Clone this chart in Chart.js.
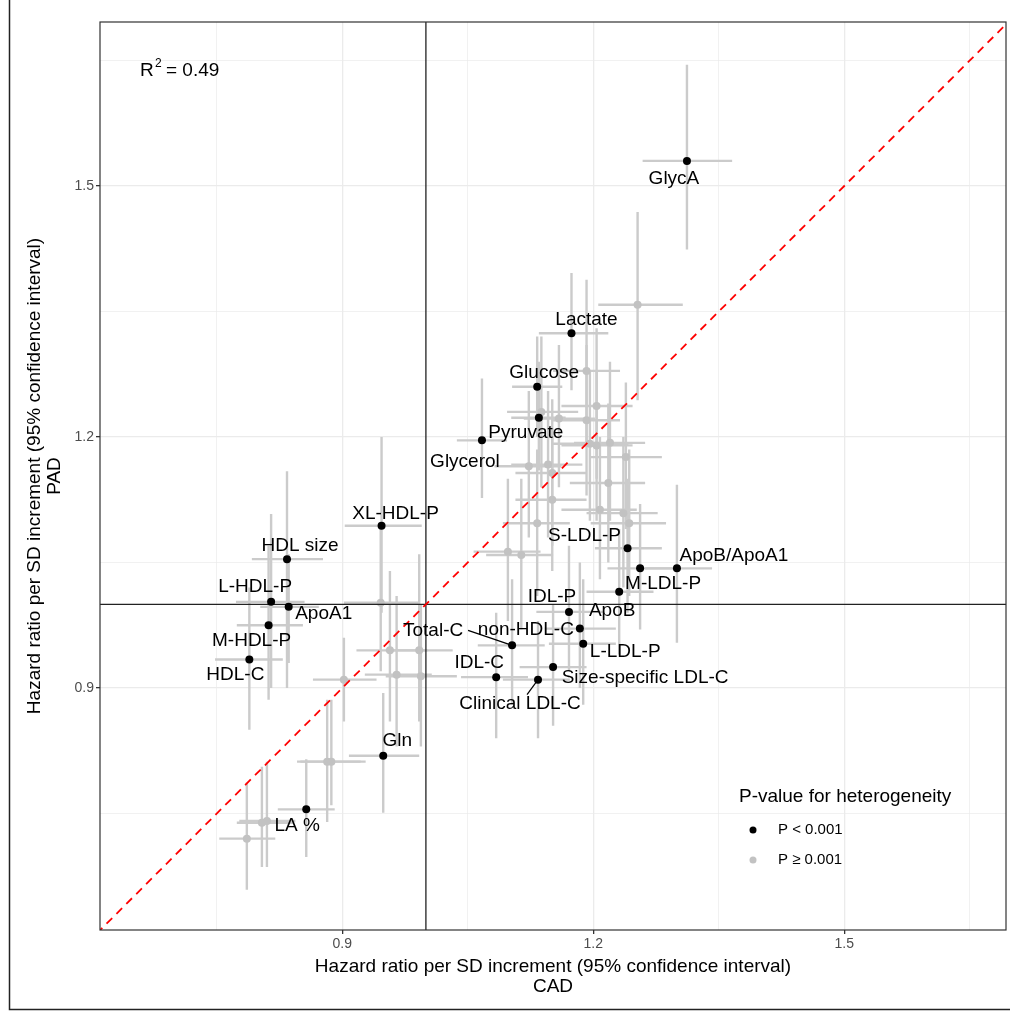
<!DOCTYPE html>
<html>
<head>
<meta charset="utf-8">
<script src="https://cdn.jsdelivr.net/npm/chart.js@4.4.0/dist/chart.umd.min.js"></script>
<style>
  html, body { margin: 0; padding: 0; background: #fff; }
  #wrap { position: relative; width: 1010px; height: 1013px; }
</style>
</head>
<body>
<div id="wrap"><canvas id="chart"></canvas></div>
<script>
// P < 0.001 (labelled, black)
const sigNames = ['GlycA', 'Lactate', 'Glucose', 'Pyruvate', 'Glycerol', 'XL-HDL-P', 'HDL size', 'L-HDL-P',
  'ApoA1', 'M-HDL-P', 'HDL-C', 'Gln', 'LA %', 'S-LDL-P', 'M-LDL-P', 'ApoB/ApoA1', 'ApoB', 'IDL-P',
  'non-HDL-C', 'L-LDL-P', 'Total-C', 'Size-specific LDL-C', 'IDL-C', 'Clinical LDL-C'];
const sigCad   = [1.312, 1.174, 1.133, 1.135, 1.067, 0.947, 0.834, 0.815, 0.836, 0.812, 0.789, 0.949, 0.857, 1.241, 1.256, 1.300, 1.231, 1.171, 1.184, 1.188, 1.103, 1.152, 1.084, 1.134];
const sigCadLo = [1.259, 1.135, 1.103, 1.102, 1.037, 0.903, 0.792, 0.773, 0.802, 0.774, 0.748, 0.908, 0.823, 1.202, 1.217, 1.262, 1.192, 1.132, 1.142, 1.147, 1.062, 1.112, 1.042, 1.092];
const sigCadHi = [1.366, 1.218, 1.163, 1.167, 1.097, 0.995, 0.877, 0.855, 0.872, 0.853, 0.829, 0.992, 0.891, 1.282, 1.297, 1.342, 1.272, 1.212, 1.227, 1.227, 1.142, 1.192, 1.122, 1.172];
const sigPad   = [1.530, 1.324, 1.260, 1.223, 1.196, 1.094, 1.054, 1.003, 0.997, 0.975, 0.934, 0.819, 0.755, 1.067, 1.043, 1.043, 1.015, 0.991, 0.971, 0.953, 0.951, 0.925, 0.913, 0.910];
const sigPadLo = [1.424, 1.256, 1.200, 1.160, 1.127, 0.990, 0.900, 0.900, 0.930, 0.886, 0.850, 0.751, 0.698, 0.990, 0.970, 0.954, 0.940, 0.920, 0.900, 0.880, 0.880, 0.855, 0.840, 0.840];
const sigPadHi = [1.645, 1.396, 1.320, 1.290, 1.270, 1.200, 1.159, 1.108, 1.060, 1.070, 1.020, 0.894, 0.815, 1.150, 1.120, 1.143, 1.090, 1.070, 1.050, 1.030, 1.030, 1.000, 0.990, 0.980];

// P >= 0.001 (grey)
const nsCad   = [1.253, 1.192, 1.204, 1.138, 1.159, 1.192, 1.196, 1.204, 1.220, 1.239, 1.123, 1.146, 1.151, 1.218, 1.151, 1.208, 1.236, 1.243, 1.133, 1.098, 1.114, 0.946, 0.957, 0.992, 0.965, 0.994, 0.902, 0.882, 0.887, 0.804, 0.810, 0.786];
const nsCadLo = [1.206, 1.152, 1.162, 1.097, 1.117, 1.152, 1.152, 1.162, 1.177, 1.197, 1.082, 1.102, 1.107, 1.172, 1.107, 1.162, 1.192, 1.197, 1.092, 1.057, 1.072, 0.902, 0.917, 0.952, 0.927, 0.952, 0.865, 0.846, 0.850, 0.774, 0.777, 0.753];
const nsCadHi = [1.307, 1.232, 1.247, 1.182, 1.202, 1.232, 1.242, 1.247, 1.262, 1.282, 1.162, 1.187, 1.192, 1.262, 1.192, 1.252, 1.277, 1.287, 1.172, 1.137, 1.152, 0.992, 1.002, 1.032, 1.007, 1.037, 0.941, 0.922, 0.928, 0.841, 0.844, 0.820];
const nsPad   = [1.358, 1.279, 1.237, 1.230, 1.222, 1.220, 1.192, 1.190, 1.193, 1.176, 1.165, 1.167, 1.157, 1.145, 1.125, 1.113, 1.109, 1.097, 1.097, 1.063, 1.059, 1.002, 0.945, 0.945, 0.916, 0.914, 0.910, 0.812, 0.812, 0.739, 0.741, 0.720];
const nsPadLo = [1.244, 1.190, 1.150, 1.140, 1.140, 1.130, 1.100, 1.100, 1.100, 1.090, 1.080, 1.080, 1.070, 1.050, 1.040, 1.030, 1.020, 1.010, 1.010, 0.980, 0.970, 0.920, 0.860, 0.860, 0.830, 0.830, 0.860, 0.740, 0.760, 0.686, 0.686, 0.659];
const nsPadHi = [1.469, 1.388, 1.330, 1.320, 1.310, 1.310, 1.280, 1.280, 1.290, 1.265, 1.255, 1.255, 1.245, 1.240, 1.210, 1.200, 1.200, 1.185, 1.185, 1.150, 1.150, 1.090, 1.040, 1.060, 1.010, 1.000, 0.960, 0.886, 0.886, 0.806, 0.812, 0.787];

const xTicks = [0.75, 0.9, 1.05, 1.2, 1.35, 1.5, 1.65];
const majorTicks = [0.9, 1.2, 1.5];

// label placement (pixel offsets of label centre from its point), plus leader lines
const labelOffset = {
  'GlycA': [-13, 18], 'Lactate': [15, -13], 'Glucose': [7, -14], 'Pyruvate': [-13, 15],
  'Glycerol': [-17, 21], 'XL-HDL-P': [14, -12], 'HDL size': [13, -13], 'L-HDL-P': [-16, -15],
  'ApoA1': [35, 7], 'M-HDL-P': [-17, 15], 'HDL-C': [-14, 15], 'Gln': [14, -15], 'LA %': [-9, 16],
  'S-LDL-P': [-43, -13], 'M-LDL-P': [23, 15], 'ApoB/ApoA1': [57, -13], 'ApoB': [-7, 19],
  'IDL-P': [-17, -15], 'non-HDL-C': [-54, 1], 'L-LDL-P': [42, 8], 'Total-C': [-79, -15],
  'Size-specific LDL-C': [92, 11], 'IDL-C': [-17, -14], 'Clinical LDL-C': [-18, 24]
};
const leaders = { 'Total-C': [-44, -15], 'Clinical LDL-C': [-11, 15] };

const FONT = "'Liberation Sans', Arial, Helvetica, sans-serif";

function toPoints(xs, lo, hi, ys, ylo, yhi) {
  return xs.map((v, i) => ({ x: v, y: ys[i], xlo: lo[i], xhi: hi[i], ylo: ylo[i], yhi: yhi[i] }));
}

const errorBars = {
  id: 'errorBars',
  beforeDatasetsDraw(chart) {
    const { ctx, chartArea: a, scales: { x, y } } = chart;
    ctx.save();
    ctx.beginPath();
    ctx.rect(a.left, a.top, a.right - a.left, a.bottom - a.top);
    ctx.clip();
    ctx.strokeStyle = '#cbcbcb';
    ctx.lineWidth = 2.4;
    [1, 0].forEach(di => {
      chart.data.datasets[di].data.forEach(p => {
        const px = x.getPixelForValue(p.x), py = y.getPixelForValue(p.y);
        ctx.beginPath();
        ctx.moveTo(x.getPixelForValue(p.xlo), py);
        ctx.lineTo(x.getPixelForValue(p.xhi), py);
        ctx.moveTo(px, y.getPixelForValue(p.ylo));
        ctx.lineTo(px, y.getPixelForValue(p.yhi));
        ctx.stroke();
      });
    });
    ctx.restore();
  }
};

const annotations = {
  id: 'annotations',
  afterDatasetsDraw(chart) {
    const { ctx, chartArea: a, scales: { x, y } } = chart;
    ctx.save();
    // point labels
    ctx.font = '19px ' + FONT;
    ctx.fillStyle = '#000';
    ctx.textAlign = 'center';
    ctx.textBaseline = 'middle';
    sigNames.forEach((name, i) => {
      const px = x.getPixelForValue(sigCad[i]), py = y.getPixelForValue(sigPad[i]);
      const off = labelOffset[name];
      if (leaders[name]) {
        ctx.strokeStyle = '#000';
        ctx.lineWidth = 1.2;
        ctx.beginPath();
        ctx.moveTo(px + leaders[name][0], py + leaders[name][1]);
        ctx.lineTo(px, py);
        ctx.stroke();
      }
      ctx.fillText(name, px + off[0], py + off[1]);
    });
    // R^2
    ctx.textAlign = 'left';
    ctx.textBaseline = 'alphabetic';
    ctx.font = '19px ' + FONT;
    ctx.fillText('R', a.left + 40, a.top + 54);
    ctx.font = '12px ' + FONT;
    ctx.fillText('2', a.left + 55, a.top + 45);
    ctx.font = '19px ' + FONT;
    ctx.fillText('= 0.49', a.left + 66, a.top + 54);
    // legend
    ctx.textBaseline = 'middle';
    ctx.font = '19px ' + FONT;
    ctx.fillText('P-value for heterogeneity', 739, 797);
    ctx.font = '15px ' + FONT;
    [['P < 0.001', '#000'], ['P \u2265 0.001', '#c2c2c2']].forEach((e, i) => {
      const ey = 830 + i * 30;
      ctx.fillStyle = e[1];
      ctx.beginPath();
      ctx.arc(753, ey, 3.5, 0, Math.PI * 2);
      ctx.fill();
      ctx.fillStyle = '#000';
      ctx.fillText(e[0], 778, ey);
    });
    ctx.restore();
  },
  afterDraw(chart) {
    const { ctx, chartArea: a } = chart;
    ctx.save();
    ctx.strokeStyle = '#333';
    ctx.lineWidth = 1.2;
    ctx.strokeRect(a.left, a.top, a.right - a.left, a.bottom - a.top);
    // outer frame
    ctx.strokeStyle = '#222';
    ctx.lineWidth = 1.5;
    ctx.beginPath();
    ctx.moveTo(9.5, 0);
    ctx.lineTo(9.5, 1009.5);
    ctx.lineTo(1010, 1009.5);
    ctx.stroke();
    ctx.restore();
  }
};

function fixTicks(scale) {
  scale.ticks = xTicks.map(v => ({ value: v }));
}
function isMajor(v) {
  return majorTicks.some(m => Math.abs(m - v) < 1e-6);
}

const gridOpts = {
  color: '#ebebeb',
  lineWidth: c => (c.tick && isMajor(c.tick.value) ? 1.3 : 0.7),
  tickColor: c => (c.tick && isMajor(c.tick.value) ? '#333' : 'rgba(0,0,0,0)'),
  tickLength: 4,
  drawTicks: true
};
const tickOpts = {
  color: '#4d4d4d',
  font: { family: FONT, size: 14 },
  padding: 2,
  maxRotation: 0,
  autoSkip: false,
  callback: v => (isMajor(v) ? String(v) : '')
};

new Chart(document.getElementById('chart'), {
  type: 'scatter',
  data: {
    datasets: [
      {
        label: 'P < 0.001',
        data: toPoints(sigCad, sigCadLo, sigCadHi, sigPad, sigPadLo, sigPadHi),
        backgroundColor: '#000',
        borderWidth: 0,
        pointRadius: 4,
        order: 0
      },
      {
        label: 'P \u2265 0.001',
        data: toPoints(nsCad, nsCadLo, nsCadHi, nsPad, nsPadLo, nsPadHi),
        backgroundColor: '#c2c2c2',
        borderWidth: 0,
        pointRadius: 4,
        order: 3
      },
      {
        data: [{ x: 0.5, y: 0.5 }, { x: 1.8, y: 1.8 }],
        showLine: true,
        borderColor: '#ff0000',
        borderWidth: 1.8,
        borderDash: [8, 6],
        pointRadius: 0,
        order: 1
      },
      {
        data: [{ x: 1, y: 0.5 }, { x: 1, y: 1.8 }],
        showLine: true,
        borderColor: '#222',
        borderWidth: 1.3,
        pointRadius: 0,
        order: 2
      },
      {
        data: [{ x: 0.5, y: 1 }, { x: 1.8, y: 1 }],
        showLine: true,
        borderColor: '#222',
        borderWidth: 1.3,
        pointRadius: 0,
        order: 2
      }
    ]
  },
  options: {
    responsive: true,
    maintainAspectRatio: false,
    animation: false,
    events: [],
    layout: { padding: { top: 22, right: 4, bottom: 0, left: 0 } },
    plugins: { legend: { display: false }, tooltip: { enabled: false } },
    scales: {
      x: {
        type: 'linear',
        min: 0.6105,
        max: 1.6933,
        afterBuildTicks: fixTicks,
        afterFit: s => { s.height = 83; },
        grid: gridOpts,
        border: { display: false },
        ticks: tickOpts,
        title: {
          display: true,
          text: ['Hazard ratio per SD increment (95% confidence interval)', 'CAD'],
          color: '#000',
          font: { family: FONT, size: 19, lineHeight: 1.05 },
          padding: { top: 0, bottom: 16 }
        }
      },
      y: {
        type: 'linear',
        min: 0.6108,
        max: 1.6960,
        afterBuildTicks: fixTicks,
        afterFit: s => { s.width = 100; },
        grid: gridOpts,
        border: { display: false },
        ticks: tickOpts,
        title: {
          display: true,
          text: ['Hazard ratio per SD increment (95% confidence interval)', 'PAD'],
          color: '#000',
          font: { family: FONT, size: 19, lineHeight: 1.05 },
          padding: { top: 25, bottom: 0 }
        }
      }
    }
  },
  plugins: [errorBars, annotations]
});
</script>
</body>
</html>
